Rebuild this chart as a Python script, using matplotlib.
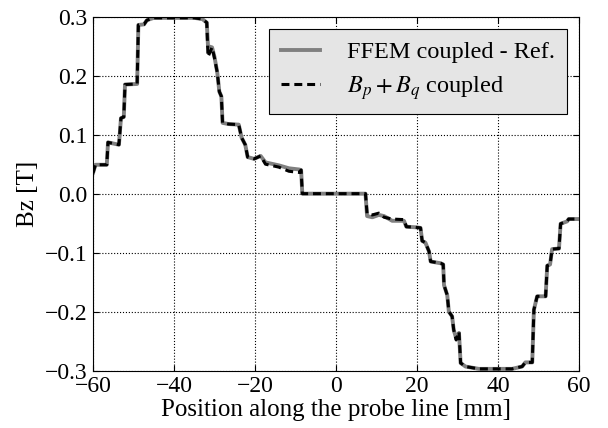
import matplotlib
matplotlib.use("Agg")
import matplotlib.pyplot as plt

plt.rcParams['font.family'] = ['Liberation Serif', 'DejaVu Serif']
plt.rcParams['mathtext.fontset'] = 'stix'

x = [-60, -59.4, -56.6, -56.3, -55, -53.6, -53.1, -52.4, -52.1, -49.1, -48.8, -47.4, -46.7, -45,
     -35, -33, -31.9, -31.6, -30.6, -30.0, -29.3, -28.8, -28.3, -28.0, -26.5, -24.0, -23.3, -22.4,
     -21.8, -20.2, -18.6, -17.4, -14.1, -11.6, -9.1, -8.6, -8.3, 7.3, 7.7, 9, 10.6, 11.9, 13.9,
     16.8, 17.4, 19.7, 20.9, 21.3, 22.1, 23.0, 23.4, 25.9, 26.5, 26.7, 27.5, 27.9, 28.7, 29.1,
     29.7, 30.4, 30.8, 32.0, 35.3, 43.5, 46.0, 46.8, 48.5, 48.9, 49.7, 51.8, 52.2, 52.9, 53.4,
     55.1, 55.5, 57.1, 57.5, 60]

ref = [0.035, 0.049, 0.049, 0.087, 0.085, 0.083, 0.128, 0.130, 0.185, 0.186, 0.286, 0.287, 0.294, 0.298,
       0.298, 0.296, 0.290, 0.250, 0.248, 0.232, 0.205, 0.173, 0.165, 0.120, 0.118, 0.117, 0.095, 0.083,
       0.062, 0.059, 0.064, 0.053, 0.048, 0.043, 0.041, 0.040, 0.0, 0.0, -0.038, -0.040, -0.036, -0.038, -0.046,
       -0.046, -0.056, -0.057, -0.058, -0.080, -0.083, -0.098, -0.115, -0.118, -0.120, -0.155, -0.172, -0.200, -0.208, -0.231,
       -0.245, -0.236, -0.287, -0.293, -0.297, -0.297, -0.293, -0.286, -0.286, -0.197, -0.174, -0.174, -0.122, -0.120, -0.094,
       -0.093, -0.051, -0.047, -0.043, -0.043]

coupled = [0.035, 0.049, 0.049, 0.087, 0.085, 0.083, 0.128, 0.130, 0.185, 0.186, 0.286, 0.287, 0.294, 0.298,
           0.298, 0.296, 0.290, 0.232, 0.248, 0.230, 0.205, 0.173, 0.165, 0.120, 0.118, 0.117, 0.095, 0.083,
           0.062, 0.059, 0.064, 0.050, 0.045, 0.038, 0.036, 0.040, 0.0, 0.0, -0.034, -0.036, -0.033, -0.040, -0.043,
           -0.044, -0.056, -0.057, -0.058, -0.080, -0.083, -0.098, -0.115, -0.118, -0.120, -0.155, -0.172, -0.200, -0.208, -0.231,
           -0.248, -0.234, -0.287, -0.293, -0.297, -0.297, -0.293, -0.286, -0.286, -0.197, -0.174, -0.174, -0.122, -0.120, -0.094,
           -0.093, -0.051, -0.047, -0.043, -0.043]

xticks = [-60, -40, -20, 0, 20, 40, 60]
yticks = [-0.3, -0.2, -0.1, 0.0, 0.1, 0.2, 0.3]

fig = plt.figure(figsize=(6.08, 4.28), dpi=100)
ax = fig.add_axes([0.153, 0.134, 0.799, 0.827])

ax.plot(x, ref, color='#808080', lw=2.8, label='FFEM coupled - Ref.')
ax.plot(x, coupled, color='black', lw=2.2, dashes=(2.6, 1.6), label=r'$B_p + B_q$ coupled')

ax.set_xlim(-60, 60)
ax.set_ylim(-0.3, 0.3)
ax.set_xticks(xticks)
ax.set_yticks(yticks)
ax.set_yticklabels([f'{v:.1f}'.replace('-', '\u2212') for v in yticks])
ax.set_xticklabels([str(v).replace('-', '\u2212') for v in xticks])
ax.tick_params(direction='in', top=True, right=True, labelsize=17, length=4, pad=4)
ax.grid(True, color='black', linestyle=':', linewidth=0.8)
ax.set_xlabel('Position along the probe line [mm]', fontsize=18, labelpad=1)
ax.set_ylabel('Bz [T]', fontsize=18, labelpad=4)

leg = ax.legend(loc='upper right', fontsize=17.5, fancybox=False, framealpha=1,
                facecolor='#e5e5e5', edgecolor='black', handlelength=1.6,
                handletextpad=1.1, borderaxespad=0.5, borderpad=0.5, labelspacing=0.45)
leg.get_frame().set_linewidth(0.8)

fig.savefig('out.png', dpi=100)
